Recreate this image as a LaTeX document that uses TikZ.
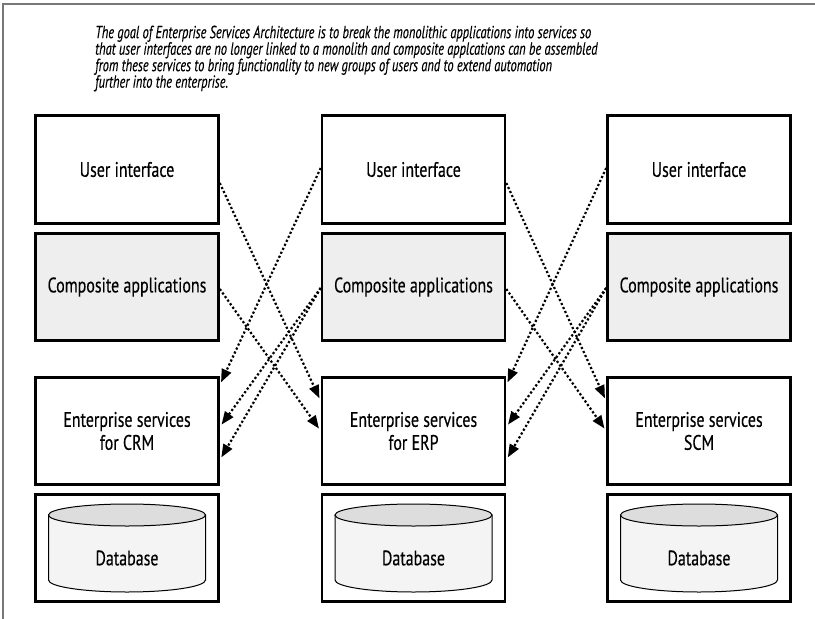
\documentclass[tikz,border=0pt]{standalone}
\usepackage{fontspec}
\setmainfont{PT Sans}[FakeStretch=0.76, FakeBold=0.3]
\newfontfamily\capfont{PT Sans}[FakeStretch=0.71, FakeBold=0.25]
\usetikzlibrary{arrows.meta}
\definecolor{compfill}{HTML}{EEEEEE}
\definecolor{dbbody}{HTML}{F4F4F4}
\definecolor{dbtop}{HTML}{DDDDDD}
\definecolor{framegray}{HTML}{777777}
\begin{document}
\begin{tikzpicture}[x=1pt,y=1pt,
  box/.style={draw=black, line width=2.6pt, minimum width=183pt, minimum height=107pt,
    inner sep=0pt, align=center, font=\fontsize{21}{23}\selectfont},
  uibox/.style={box, minimum height=108pt},
  compbox/.style={box, fill=compfill},
  label/.style={inner sep=0pt, font=\fontsize{21}{23}\selectfont},
  caption/.style={inner sep=0pt, align=left, anchor=north west,
    font=\capfont\fontsize{17.5}{16.5}\selectfont\itshape},
  flow/.style={line width=2.2pt, dash pattern=on 2.2pt off 2.2pt,
    -{Triangle[length=13pt,width=10pt]}, shorten >=3pt},
  cyl/.style={line width=1pt, draw=black}
]
\useasboundingbox (0,0) rectangle (815,-619);

% outer frame (left and top edges only)
\draw[framegray, line width=1.5pt] (3,-619) -- (3,-4) -- (815,-4);

% caption
\node[caption] (cap) at (95,-25.5) {The goal of Enterprise Services Architecture is to break the monolithic applications into services so\\
that user interfaces are no longer linked to a monolith and composite applcations can be assembled\\
from these services to bring functionality to new groups of users and to extend automation\\
further into the enterprise.};

% three application stacks
\node[uibox] (ui1) at (127,-169.5) {User interface};
\node[uibox] (ui2) at (413.5,-169.5) {User interface};
\node[uibox] (ui3) at (699,-169.5) {User interface};

\node[compbox] (cp1) at (127,-287) {Composite applications};
\node[compbox] (cp2) at (413.5,-287) {Composite applications};
\node[compbox] (cp3) at (699,-287) {Composite applications};

\node[box] (es1) at (127,-431) {Enterprise services\\for CRM};
\node[box] (es2) at (413.5,-431) {Enterprise services\\for ERP};
\node[box] (es3) at (699,-431) {Enterprise services\\SCM};

% database boxes with cylinders
\foreach \i/\cx in {1/127, 2/413.5, 3/699} {
  \node[box] (db\i) at (\cx,-548) {};
  \filldraw[cyl, fill=dbbody] (\cx-78.5,-515) -- (\cx-78.5,-580)
    arc[start angle=180, end angle=360, x radius=78.5, y radius=12]
    -- (\cx+78.5,-515) -- cycle;
  \filldraw[cyl, fill=dbtop] (\cx,-515) ellipse[x radius=78.5, y radius=11];
  \node[label] (dbl\i) at (\cx,-558) {Database};
}

% cross links between neighbouring stacks
\draw[flow] ([yshift=-13.5pt]ui1.east) -- ([yshift=30pt]es2.west);
\draw[flow] ([yshift=-2pt]cp1.east) -- ([yshift=0pt]es2.west);
\draw[flow] ([yshift=1.5pt]ui2.west) -- ([yshift=46pt]es1.east);
\draw[flow] ([yshift=-1pt]cp2.west) -- ([yshift=4pt]es1.east);
\draw[flow] ([yshift=-1pt]cp2.west) -- ([yshift=-29pt]es1.east);

\draw[flow] ([yshift=-13.5pt]ui2.east) -- ([yshift=30pt]es3.west);
\draw[flow] ([yshift=-2pt]cp2.east) -- ([yshift=0pt]es3.west);
\draw[flow] ([yshift=1.5pt]ui3.west) -- ([yshift=46pt]es2.east);
\draw[flow] ([yshift=-1pt]cp3.west) -- ([yshift=4pt]es2.east);
\draw[flow] ([yshift=-1pt]cp3.west) -- ([yshift=-29pt]es2.east);
\end{tikzpicture}
\end{document}
